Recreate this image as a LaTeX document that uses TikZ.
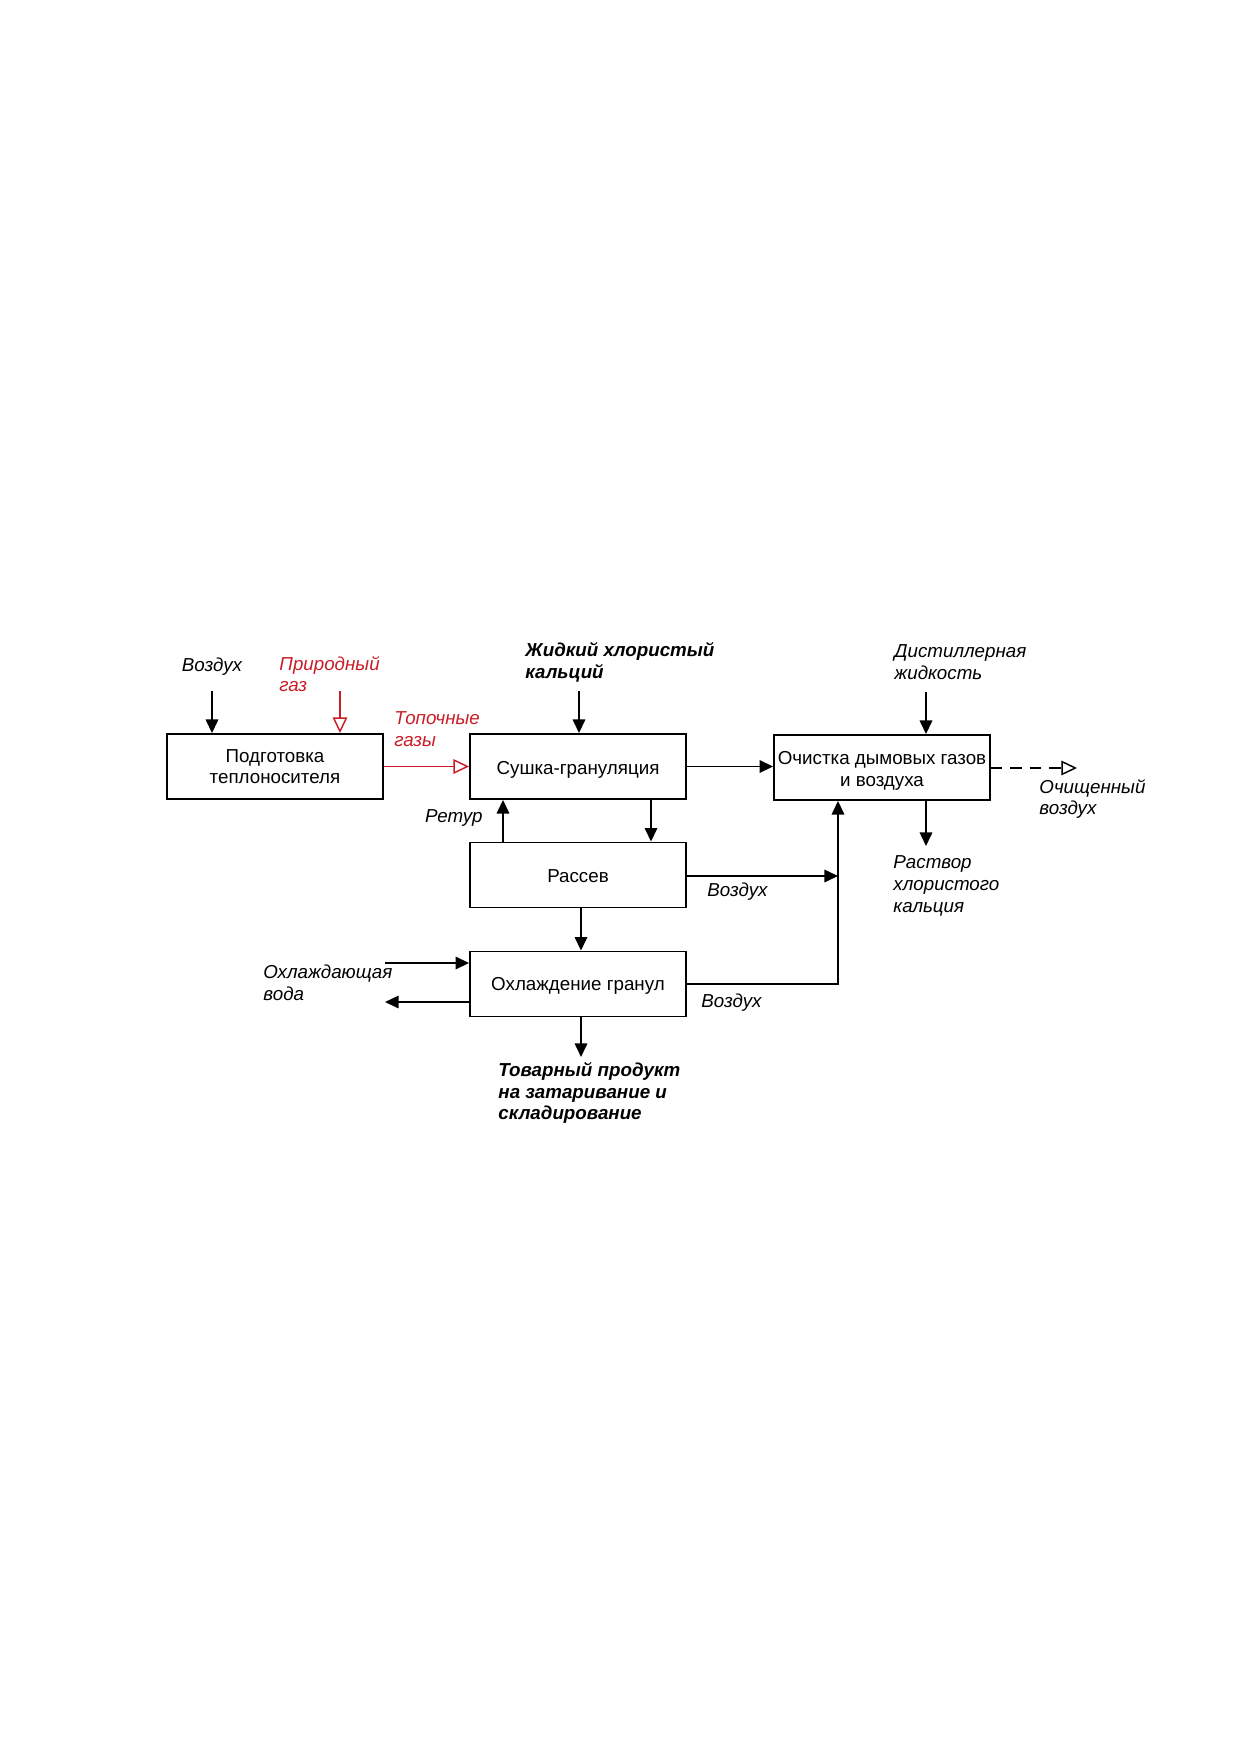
\documentclass[tikz,border=0pt]{standalone}
\usepackage{fontspec}
\setmainfont{Liberation Sans}
\usetikzlibrary{arrows.meta}
\definecolor{flowred}{RGB}{200,30,40}
\newcommand{\lowertext}[2]{\raisebox{-#1}[\height][\depth]{#2}}
\begin{document}
\begin{tikzpicture}[x=0.4797pt,y=-0.4797pt,
  font=\fontsize{9pt}{10.4pt}\selectfont,
  box/.style={draw,line width=0.9pt,minimum width=103.6pt,minimum height=31.2pt,inner sep=0pt,align=center},
  lbl/.style={font=\fontsize{9pt}{10.4pt}\selectfont\itshape,align=left,inner sep=0pt},
  blbl/.style={font=\fontsize{9pt}{10.4pt}\selectfont\bfseries\itshape,align=left,inner sep=0pt},
  arr/.style={line width=0.8pt,-{Triangle[length=6.5pt,width=6pt]}},
  oarr/.style={line width=0.7pt,-{Triangle[open,length=7.5pt,width=7pt,line width=0.7pt]}}]
\path[use as bounding box] (0,0) rectangle (1241,1754);
% boxes
\node[box] (prep) at (275,766.5) {Подготовка\\теплоносителя};
\node[box] (dry) at (578,766.5) {\lowertext{1.5pt}{Сушка-грануляция}};
\node[box] (clean) at (882,767.5) {\lowertext{1.6pt}{\shortstack{Очистка дымовых газов\\[0.8pt]и воздуха}}};
\node[box] (sieve) at (578,875) {\lowertext{0.5pt}{Рассев}};
\node[box] (cool) at (578,984) {\lowertext{1pt}{Охлаждение гранул}};
% free ends
\coordinate (airin) at (212,691);
\coordinate (gasin) at (340,691);
\coordinate (liqin) at (579,691);
\coordinate (distin) at (926,692);
\coordinate (cleanout) at (1077,768);
\coordinate (solout) at (926,846);
\coordinate (airjoin) at (838,876);
\coordinate (coolcorner) at (838,984);
\coordinate (waterin) at (385,963);
\coordinate (waterout) at (385,1002);
\coordinate (prodout) at (581,1057);
\coordinate (retx) at (503,0);
\coordinate (downx) at (651,0);
% connectors
\draw[arr] (airin) -- (airin |- prep.north);
\draw[oarr,flowred] (gasin) -- (gasin |- prep.north);
\draw[oarr,flowred] (prep.east) -- (dry.west);
\draw[arr] (liqin) -- (liqin |- dry.north);
\draw[arr] (dry.east) -- (dry.east -| clean.west);
\draw[arr] (distin) -- (distin |- clean.north);
\draw[oarr,dash pattern=on 5.5pt off 3.8pt] (clean.east |- cleanout) -- (cleanout);
\draw[arr] (solout |- clean.south) -- (solout);
\draw[arr] (retx |- sieve.north) -- (retx |- dry.south);
\draw[arr] (downx |- dry.south) -- (downx |- sieve.north);
\draw[arr] (sieve.east |- airjoin) -- (airjoin);
\draw[arr] (sieve.south -| prodout) -- (cool.north -| prodout);
\draw[arr] (cool.east |- coolcorner) -- (coolcorner) -- (coolcorner |- clean.south);
\draw[arr] (waterin) -- (waterin -| cool.west);
\draw[arr] (cool.west |- waterout) -- (waterout);
\draw[arr] (prodout |- cool.south) -- (prodout);
% labels
\node[lbl] (lair) at (212,667) {Воздух};
\node[lbl,text=flowred,anchor=west] (lgas) at (279,674) {Природный\\газ};
\node[lbl,text=flowred,anchor=west] (lflue) at (394,729) {Топочные\\газы};
\node[blbl,anchor=west] (lliq) at (525,662.5) {Жидкий хлористый\\кальций};
\node[lbl,anchor=west] (ldist) at (894,662) {Дистиллерная\\жидкость};
\node[lbl,anchor=west] (lclean) at (1039,799) {Очищенный\\воздух};
\node[lbl,anchor=west] (lsol) at (893,886) {Раствор\\хлористого\\кальция};
\node[lbl,anchor=east] (lret) at (483,818) {Ретур};
\node[lbl,anchor=west] (lair2) at (707,892) {Воздух};
\node[lbl,anchor=west] (lair3) at (701,1003) {Воздух};
\node[lbl,anchor=west] (lwater) at (263,983) {Охлаждающая\\вода};
\node[blbl,anchor=west] (lprod) at (498,1093) {Товарный продукт\\на затаривание и\\складирование};
\end{tikzpicture}
\end{document}
